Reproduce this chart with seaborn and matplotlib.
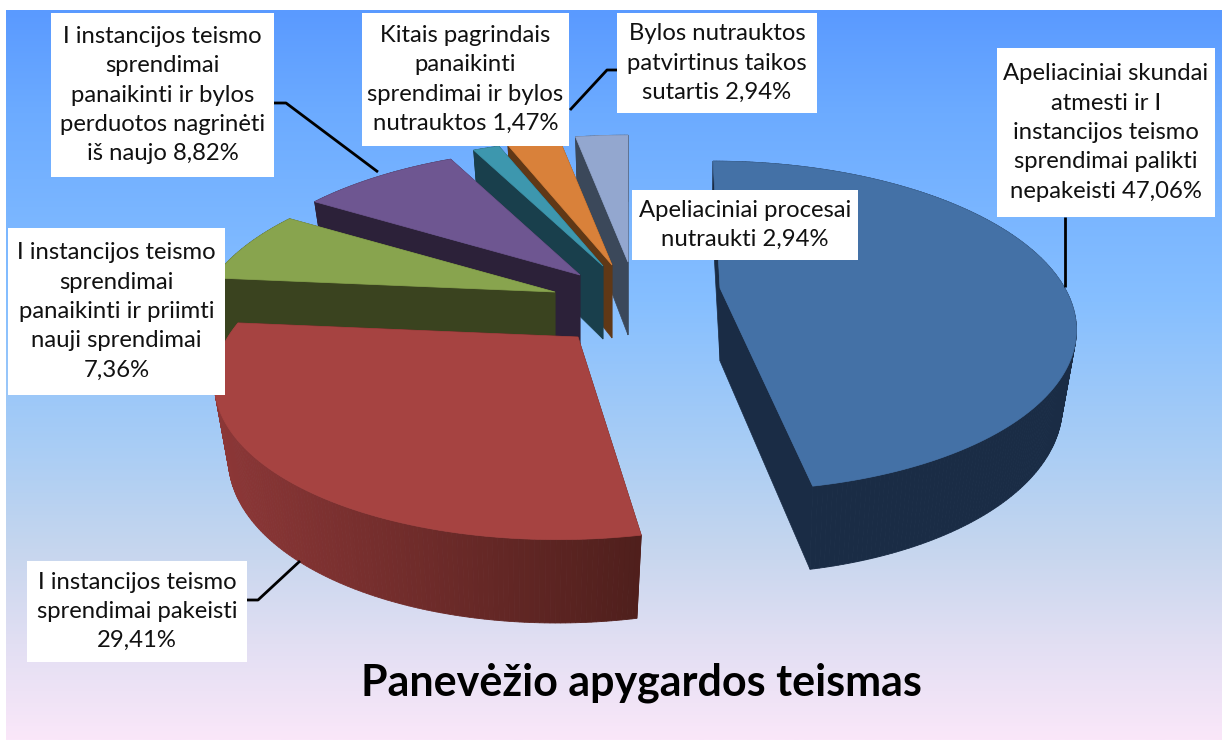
import numpy as np
import matplotlib
matplotlib.use("Agg")
import matplotlib.pyplot as plt
from matplotlib.colors import LinearSegmentedColormap, to_rgb
from matplotlib.patches import Polygon, Rectangle
import seaborn as sns

# ---- data ----
categories = [
    "Apeliaciniai skundai\natmesti ir I\ninstancijos teismo\nsprendimai palikti\nnepakeisti 47,06%",
    "I instancijos teismo\nsprendimai pakeisti\n29,41%",
    "I instancijos teismo\nsprendimai\npanaikinti ir priimti\nnauji sprendimai\n7,36%",
    "I instancijos teismo\nsprendimai\npanaikinti ir bylos\nperduotos nagrinėti\niš naujo 8,82%",
    "Kitais pagrindais\npanaikinti\nsprendimai ir bylos\nnutrauktos 1,47%",
    "Bylos nutrauktos\npatvirtinus taikos\nsutartis 2,94%",
    "Apeliaciniai procesai\nnutraukti 2,94%",
]
values = [47.06, 29.41, 7.36, 8.82, 1.47, 2.94, 2.94]
title = "Panevėžio apygardos teismas"

# ---- style ----
face_colors = ["#4471a6", "#a64341", "#88a44e", "#6e5691", "#3d97ae", "#d9813a", "#93a7cf"]
side_light = ["#1b2f4b", "#8c3737", "#3a431f", "#2c2139", "#193f4c", "#603816", "#3b485a"]
side_dark = ["#1a2c45", "#4f1f1c", "#3a431f", "#2c2139", "#193f4c", "#603816", "#3b485a"]
tips = [(720, 288), (578, 337), (555, 292), (580, 275), (603, 266), (612, 265), (628, 262)]
shears = [0.055, -0.10, 0.0, 0.0, 0.0, 0.0, 0.0]
x_scales = [0.985, 1.0, 1.0, 1.0, 1.0, 1.0, 1.0]
draw_order = [6, 5, 4, 3, 2, 1, 0]
boxes = [(997, 48, 1215, 217), (27, 561, 247, 662), (8, 228, 225, 395), (51, 13, 274, 177),
         (362, 13, 569, 146), (617, 13, 817, 113), (632, 190, 858, 260)]
leaders = [[(1065, 217), (1065, 287)],
           [(247, 600), (258, 600), (300, 561)],
           [(274, 103), (286, 103), (378, 172)],
           [(617, 70), (607, 70), (570, 110)]]
K = 0.23        # perspective
SX, SY = 350, 156
BOTTOM_SX, BOTTOM_SY, DEPTH = 336, 164, 73

sns.set_theme(style="white")
plt.rcParams["font.family"] = ["Lato", "DejaVu Sans"]
palette = sns.color_palette(face_colors)

fig = plt.figure(figsize=(12.25, 7.4), dpi=100, facecolor="white")
ax = fig.add_axes([0, 0, 1, 1])

# pie supplies the angles of the slices
helper = fig.add_axes([0, 0, 0.01, 0.01])
wedges, _ = helper.pie(values, startangle=90, counterclock=False)
spans = [(w.theta1, w.theta2) for w in wedges]
helper.remove()

ax.axis("off")

# background gradient
bg = LinearSegmentedColormap.from_list("bg", [
    (0.0, "#5a9aff"), (0.14, "#6cabff"), (0.40, "#86bfff"), (0.60, "#a9cdf5"),
    (0.74, "#c6d6ee"), (0.87, "#e2dff3"), (1.0, "#fae7f9")])
ax.imshow(np.linspace(0, 1, 256)[:, None], cmap=bg, extent=(6, 1222, 740, 10),
          aspect="auto", zorder=0)
ax.set_xlim(0, 1225)
ax.set_ylim(740, 0)


def project(theta, r, tip, sx, sy, shear, dy=0.0):
    t = np.radians(theta)
    X, Y = r * np.cos(t), r * np.sin(t)
    w = 1 + K * Y
    v = -sy * Y / w
    return np.column_stack([tip[0] + sx * X / w + shear * v, tip[1] + dy + v])


z = 1.0
for i in draw_order:
    th1, th2 = spans[i]
    th = np.linspace(th1, th2, max(12, int(abs(th2 - th1) * 1.5)))
    tip = tips[i]
    top = project(th, 1.0, tip, SX * x_scales[i], SY, shears[i])
    bot = project(th, 1.0, tip, BOTTOM_SX * x_scales[i], BOTTOM_SY, shears[i], DEPTH)
    tip_top = np.array(tip, float)
    tip_bot = np.array([tip[0], tip[1] + DEPTH], float)
    c0, c1 = np.array(to_rgb(side_light[i])), np.array(to_rgb(side_dark[i]))
    # radial walls
    for a, b in ((top[0], bot[0]), (top[-1], bot[-1])):
        ax.add_patch(Polygon([tip_top, a, b, tip_bot], closed=True, fc=c1, ec=c1, lw=0.5, zorder=z))
    # outer wall, shaded from left to right
    xmin, xmax = 215, 640
    for j in range(len(th) - 1):
        f = np.clip((top[j, 0] - xmin) / (xmax - xmin), 0, 1)
        col = c0 + (c1 - c0) * f
        ax.add_patch(Polygon([top[j], top[j + 1], bot[j + 1], bot[j]], closed=True,
                             fc=col, ec=col, lw=0.6, zorder=z + 0.1))
    ax.add_patch(Polygon(np.vstack([tip_top, top]), closed=True, fc=palette[i], ec=palette[i],
                         lw=0.5, zorder=z + 0.2))
    z += 1

for pts in leaders:
    xs, ys = zip(*pts)
    ax.plot(xs, ys, color="black", lw=2.0, zorder=19, solid_capstyle="butt")

for label, (x0, y0, x1, y1) in zip(categories, boxes):
    ax.add_patch(Rectangle((x0, y0), x1 - x0, y1 - y0, fc="white", ec="none", zorder=20))
    ax.text((x0 + x1) / 2, (y0 + y1) / 2, label, ha="center", va="center", ma="center",
            fontsize=17.2, linespacing=1.49, color="#111111", zorder=21)

ax.text(641.5, 683, title, ha="center", va="center", fontsize=31, fontweight="bold",
        color="black", zorder=21)

fig.savefig("out.png", dpi=100)
